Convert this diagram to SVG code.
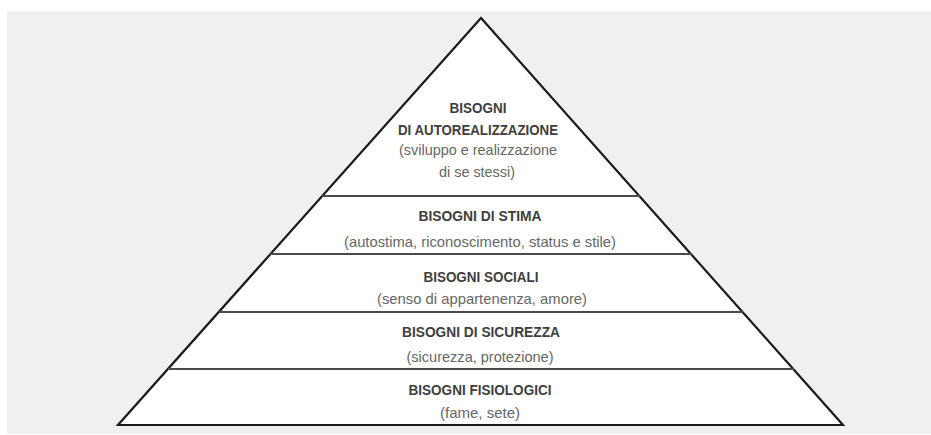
<svg xmlns="http://www.w3.org/2000/svg" width="931" height="435" viewBox="0 0 931 435">
<style>
.t{font-family:"Liberation Sans",Arial,sans-serif;font-size:14px;font-weight:bold;fill:#3e3e3e;text-anchor:middle}
.s{font-family:"Liberation Sans",Arial,sans-serif;font-size:15px;fill:#666;text-anchor:middle}
.div{stroke:#4a4a4a;stroke-width:2;fill:none}
</style>
<rect x="0" y="0" width="931" height="435" fill="#ffffff"/>
<rect x="7" y="11" width="924" height="423" fill="#f0f0f0"/>
<g id="pyramid">
<polygon points="481,18 118,425 843,425" fill="#ffffff" stroke="#1a1a1a" stroke-width="2.2" stroke-linejoin="miter"/>
</g>
<g id="connectors">
<line class="div" x1="322" y1="196" x2="640" y2="196"/>
<line class="div" x1="270" y1="254" x2="692" y2="254"/>
<line class="div" x1="219" y1="312" x2="743" y2="312"/>
<line class="div" x1="168" y1="369" x2="794" y2="369"/>
</g>
<g id="autorealizzazione">
<text class="t" x="478" y="113" textLength="57" lengthAdjust="spacingAndGlyphs">BISOGNI</text>
<text class="t" x="478" y="135" textLength="160" lengthAdjust="spacingAndGlyphs">DI AUTOREALIZZAZIONE</text>
<text class="s" x="478" y="155" textLength="158" lengthAdjust="spacingAndGlyphs">(sviluppo e realizzazione</text>
<text class="s" x="477" y="177" textLength="76" lengthAdjust="spacingAndGlyphs">di se stessi)</text>
</g>
<g id="stima">
<text class="t" x="480" y="221" textLength="123" lengthAdjust="spacingAndGlyphs">BISOGNI DI STIMA</text>
<text class="s" x="480" y="247" textLength="272" lengthAdjust="spacingAndGlyphs">(autostima, riconoscimento, status e stile)</text>
</g>
<g id="sociali">
<text class="t" x="481" y="282" textLength="115" lengthAdjust="spacingAndGlyphs">BISOGNI SOCIALI</text>
<text class="s" x="482" y="304" textLength="210" lengthAdjust="spacingAndGlyphs">(senso di appartenenza, amore)</text>
</g>
<g id="sicurezza">
<text class="t" x="481" y="337" textLength="158" lengthAdjust="spacingAndGlyphs">BISOGNI DI SICUREZZA</text>
<text class="s" x="480" y="362" textLength="147" lengthAdjust="spacingAndGlyphs">(sicurezza, protezione)</text>
</g>
<g id="fisiologici">
<text class="t" x="480" y="395" textLength="143" lengthAdjust="spacingAndGlyphs">BISOGNI FISIOLOGICI</text>
<text class="s" x="480" y="418" textLength="80" lengthAdjust="spacingAndGlyphs">(fame, sete)</text>
</g>
</svg>
